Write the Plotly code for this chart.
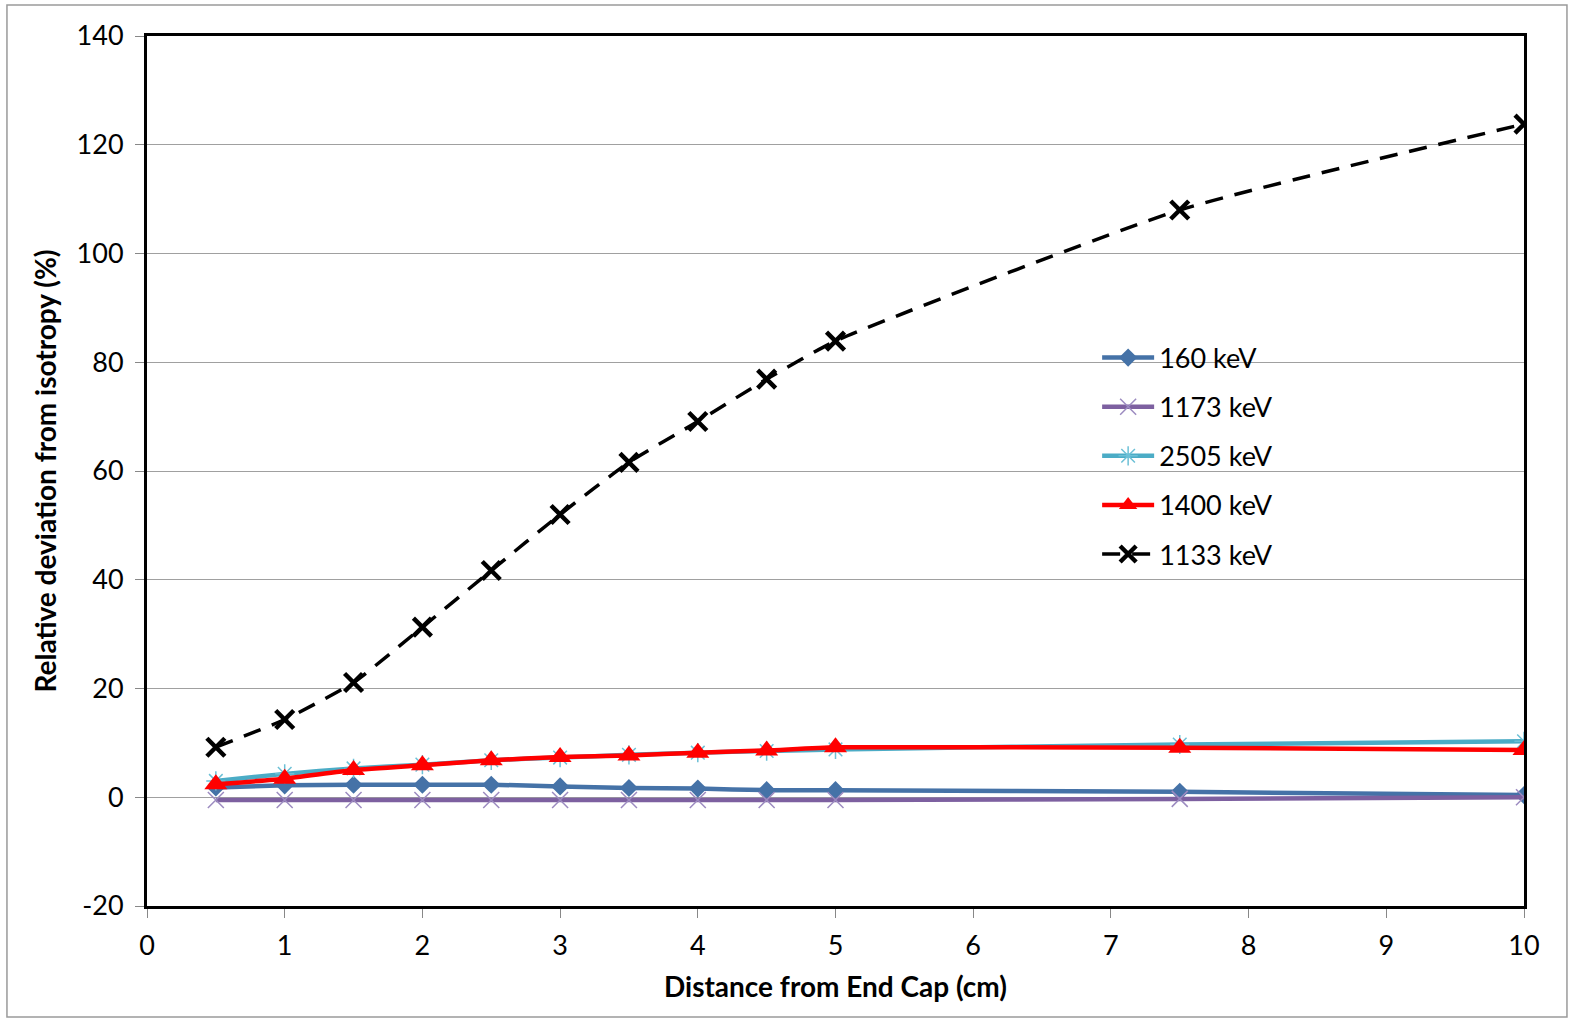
import plotly.graph_objects as go

distance_cm = [0.5, 1, 1.5, 2, 2.5, 3, 3.5, 4, 4.5, 5, 7.5, 10]
kev_160 = [1.8, 2.2, 2.3, 2.3, 2.3, 2.0, 1.7, 1.6, 1.3, 1.3, 1.0, 0.4]
kev_1173 = [-0.5, -0.5, -0.5, -0.5, -0.5, -0.5, -0.5, -0.5, -0.5, -0.5, -0.3, 0.0]
kev_2505 = [3.0, 4.3, 5.3, 6.0, 6.8, 7.3, 7.8, 8.2, 8.5, 8.8, 9.7, 10.3]
kev_1400 = [2.4, 3.4, 5.0, 5.9, 6.8, 7.4, 7.7, 8.2, 8.6, 9.2, 9.1, 8.7]
kev_1133 = [9.2, 14.3, 21.1, 31.3, 41.7, 52.0, 61.6, 69.1, 76.9, 83.9, 108.0, 123.8]

x_ticks = list(range(0, 11))
y_ticks = list(range(-20, 141, 20))

FONT = "Lato"

fig = go.Figure()

series = [
    ("160 keV", kev_160, "#4572A7", dict(symbol="diamond", size=14, color="#4572A7"), "solid", 4.5),
    ("1173 keV", kev_1173, "#7D60A0", dict(symbol="x-thin", size=16, color="#7D60A0",
                                          line=dict(width=1.5, color="#9C8BC0")), "solid", 4.5),
    ("2505 keV", kev_2505, "#4BACC6", dict(symbol="asterisk", size=16, color="#4BACC6",
                                          line=dict(width=1.5, color="#6CC0D6")), "solid", 4.5),
    ("1400 keV", kev_1400, "#FF0000", dict(symbol="triangle-up", size=20, color="#FF0000"), "solid", 4.5),
    ("1133 keV", kev_1133, "#000000", dict(symbol="x-thin", size=18, color="#000000",
                                          line=dict(width=4.5, color="#000000")), "18px,12px", 3.5),
]

for i, (name, ys, color, marker, dash, lw) in enumerate(series):
    fig.add_trace(go.Scatter(
        x=distance_cm, y=ys, name=name, mode="lines+markers",
        line=dict(color=color, width=lw, dash=dash, shape="spline", smoothing=0.5),
        marker=marker, legendgroup=f"g{i}",
    ))

fig.update_layout(
    width=1569, height=1020,
    margin=dict(l=147, r=45, t=36, b=114),
    paper_bgcolor="white", plot_bgcolor="white",
    font=dict(family=FONT, size=27, color="#000000"),
    showlegend=True,
    legend=dict(
        x=0.690, y=0.658, xanchor="left", yanchor="top",
        bgcolor="rgba(0,0,0,0)", font=dict(family=FONT, size=27, color="#000000"),
        traceorder="grouped", tracegroupgap=11, itemwidth=52,
    ),
    xaxis=dict(
        range=[0, 10], tickvals=x_ticks, ticktext=[str(v) for v in x_ticks],
        showgrid=False, zeroline=False,
        showline=True, linecolor="#000000", linewidth=3, mirror=True,
        ticks="outside", ticklen=9, tickcolor="#888888", tickwidth=1,
        ticklabelstandoff=5,
        tickfont=dict(family=FONT, size=27, color="#000000"),
        title=dict(text="<b>Distance from End Cap (cm)</b>", standoff=17,
                   font=dict(family=FONT, size=28, color="#000000")),
    ),
    yaxis=dict(
        range=[-20, 140], tickvals=y_ticks, ticktext=[str(v) for v in y_ticks],
        showgrid=True, gridcolor="#A0A0A0", gridwidth=1, zeroline=False,
        showline=True, linecolor="#000000", linewidth=3, mirror=True,
        ticks="outside", ticklen=9, tickcolor="#888888", tickwidth=1,
        ticklabelstandoff=6,
        tickfont=dict(family=FONT, size=27, color="#000000"),
        title=dict(text="<b>Relative deviation from isotropy (%)</b>", standoff=12,
                   font=dict(family=FONT, size=28, color="#000000")),
    ),
    shapes=[dict(type="rect", xref="paper", yref="paper",
                 x0=-0.1017, x1=1.0312, y0=-0.1276, y1=1.0356,
                 line=dict(color="#9A9A9A", width=1.5), fillcolor="rgba(0,0,0,0)",
                 layer="below")],
)

fig.write_html("out.html")
